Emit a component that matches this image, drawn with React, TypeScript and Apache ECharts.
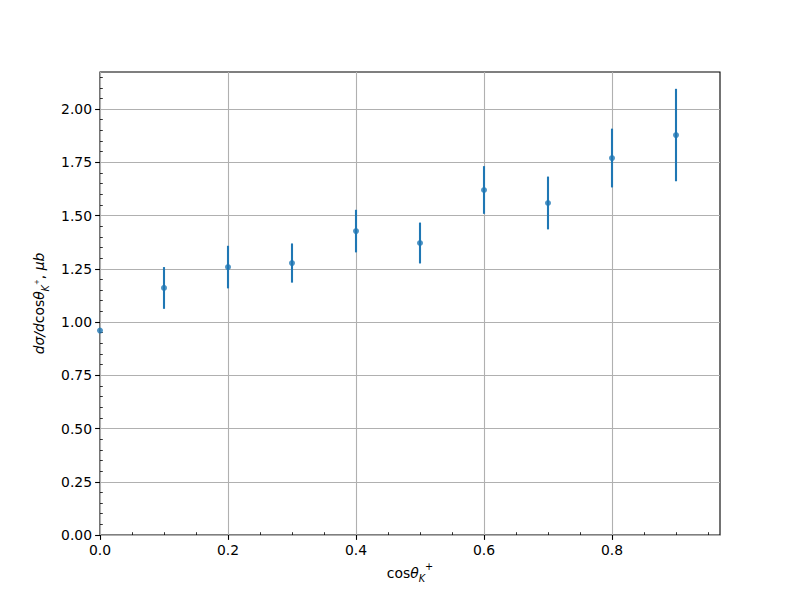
import React, { useEffect, useRef } from "react";
import * as echarts from "echarts";

const xValues = [0.0, 0.1, 0.2, 0.3, 0.4, 0.5, 0.6, 0.7, 0.8, 0.9];
const yValues = [0.96, 1.16, 1.258, 1.277, 1.427, 1.371, 1.62, 1.559, 1.77, 1.878];
const yErrors = [0.0, 0.098, 0.1, 0.092, 0.1, 0.096, 0.112, 0.124, 0.138, 0.217];
const xMajorTicks = [0.0, 0.2, 0.4, 0.6, 0.8];
const xMinorTicks = [0.05, 0.1, 0.15, 0.25, 0.3, 0.35, 0.45, 0.5, 0.55, 0.65, 0.7, 0.75, 0.85, 0.9, 0.95];
const yMajorTicks = [0, 0.25, 0.5, 0.75, 1.0, 1.25, 1.5, 1.75, 2.0];
const yMinorTicks = [
  0.05, 0.1, 0.15, 0.2, 0.3, 0.35, 0.4, 0.45, 0.55, 0.6, 0.65, 0.7, 0.8, 0.85, 0.9, 0.95,
  1.05, 1.1, 1.15, 1.2, 1.3, 1.35, 1.4, 1.45, 1.55, 1.6, 1.65, 1.7, 1.8, 1.85, 1.9, 1.95,
  2.05, 2.1, 2.15,
];
const X_MIN = 0;
const X_MAX = 0.96875;
const Y_MIN = 0;
const Y_MAX = 2.174;

const FONT = "DejaVu Sans";
const COLOR = "#1f77b4";

export default function App() {
  const ref = useRef<HTMLDivElement>(null);
  useEffect(() => {
    if (!ref.current) return;
    const chart = echarts.init(ref.current, null, { renderer: "svg" });
    const labelRich = {
      n: { fontFamily: FONT, fontSize: 13.9, color: "#000", lineHeight: 22 },
      i: { fontFamily: FONT, fontSize: 13.9, fontStyle: "italic", color: "#000", lineHeight: 22 },
      sub: { fontFamily: FONT, fontSize: 9.7, fontStyle: "italic", color: "#000", verticalAlign: "bottom", lineHeight: 12 },
      sup: { fontFamily: FONT, fontSize: 9.7, color: "#000", verticalAlign: "top", lineHeight: 12, padding: [0, 0, 3, 0] },
      subsup: { fontFamily: FONT, fontSize: 7, color: "#000", verticalAlign: "middle", lineHeight: 10, padding: [0, 0, 4, 0] },
    };
    const gridLine = { show: true, lineStyle: { color: "#b0b0b0", width: 1.1 } };
    const tickLabel = { color: "#000", fontFamily: FONT, fontSize: 13.9 };
    chart.setOption({
      animation: false,
      grid: {
        left: 100,
        right: 80,
        top: 72,
        bottom: 65,
        show: true,
        borderColor: "#000",
        borderWidth: 1.1,
        backgroundColor: "transparent",
        outerBoundsMode: "none",
      },
      xAxis: [
        {
          type: "value",
          min: X_MIN,
          max: X_MAX,
          interval: 0.2,
          axisLine: { show: false },
          axisTick: { show: true, length: 4.9, lineStyle: { color: "#000", width: 1.1 }, customValues: xMajorTicks },
          axisLabel: { ...tickLabel, margin: 8, formatter: (v: number) => v.toFixed(1), customValues: xMajorTicks },
          splitLine: gridLine,
          name: "{n|cos}{i|θ}{sub|K}{sup|+}",
          nameLocation: "middle",
          nameGap: 22,
          nameTextStyle: { rich: labelRich },
        },
        {
          type: "value",
          min: X_MIN,
          max: X_MAX,
          interval: 0.05,
          axisLine: { show: false },
          axisTick: { show: true, length: 2.8, lineStyle: { color: "#000", width: 0.8 }, customValues: xMinorTicks },
          axisLabel: { show: false },
          splitLine: { show: false },
        },
      ],
      yAxis: [
        {
          type: "value",
          min: Y_MIN,
          max: Y_MAX,
          interval: 0.25,
          axisLine: { show: false },
          axisTick: { show: true, length: 4.9, lineStyle: { color: "#000", width: 1.1 }, customValues: yMajorTicks },
          axisLabel: { ...tickLabel, margin: 8, formatter: (v: number) => v.toFixed(2), customValues: yMajorTicks },
          splitLine: gridLine,
          name: "{i|dσ/d}{n|cos}{i|θ}{sub|K}{subsup|+}{n|, }{i|μb}",
          nameLocation: "middle",
          nameRotate: 90,
          nameGap: 45,
          nameTextStyle: { rich: labelRich },
        },
        {
          type: "value",
          min: Y_MIN,
          max: Y_MAX,
          interval: 0.05,
          axisLine: { show: false },
          axisTick: { show: true, length: 2.8, lineStyle: { color: "#000", width: 0.8 }, customValues: yMinorTicks },
          axisLabel: { show: false },
          splitLine: { show: false },
        },
      ],
      series: [
        {
          type: "custom",
          xAxisIndex: 0,
          yAxisIndex: 0,
          clip: true,
          data: xValues.map((x, i) => [x, yValues[i] - yErrors[i], yValues[i] + yErrors[i]]),
          encode: { x: 0, y: [1, 2] },
          renderItem: (params: any, api: any) => {
            const x = api.value(0);
            const p1 = api.coord([x, api.value(1)]);
            const p2 = api.coord([x, api.value(2)]);
            return {
              type: "line",
              shape: { x1: p1[0], y1: p1[1], x2: p2[0], y2: p2[1] },
              style: { stroke: COLOR, lineWidth: 2.1 },
            };
          },
          z: 3,
        },
        {
          type: "scatter",
          xAxisIndex: 0,
          yAxisIndex: 0,
          symbol: "circle",
          symbolSize: 6,
          itemStyle: { color: COLOR },
          data: xValues.map((x, i) => [x, yValues[i]]),
          z: 4,
        },
      ],
    });
    return () => chart.dispose();
  }, []);
  return (
    <div
      ref={ref}
      style={{ position: "absolute", left: 0, top: 0, width: 800, height: 600, background: "#fff" }}
    />
  );
}
